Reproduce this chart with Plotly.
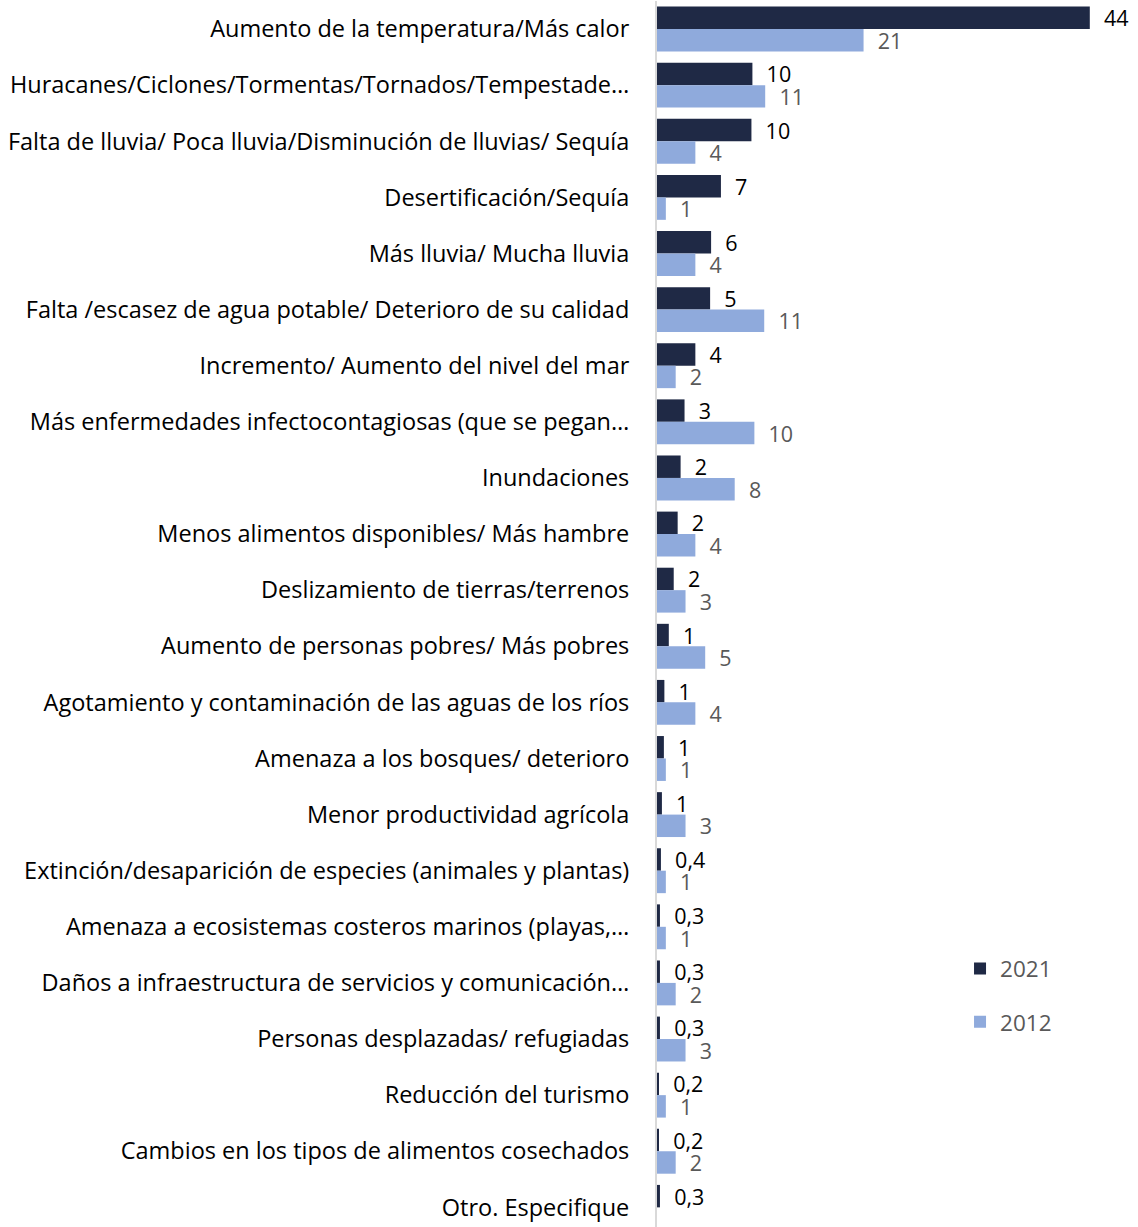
import plotly.graph_objects as go

categories = [
    "Aumento de la temperatura/Más calor",
    "Huracanes/Ciclones/Tormentas/Tornados/Tempestade…",
    "Falta de lluvia/ Poca lluvia/Disminución de lluvias/ Sequía",
    "Desertificación/Sequía",
    "Más lluvia/ Mucha lluvia",
    "Falta /escasez de agua potable/ Deterioro de su calidad",
    "Incremento/ Aumento del nivel del mar",
    "Más enfermedades infectocontagiosas (que se pegan…",
    "Inundaciones",
    "Menos alimentos disponibles/ Más hambre",
    "Deslizamiento de tierras/terrenos",
    "Aumento de personas pobres/ Más pobres",
    "Agotamiento y contaminación de las aguas de los ríos",
    "Amenaza a los bosques/ deterioro",
    "Menor productividad agrícola",
    "Extinción/desaparición de especies (animales y plantas)",
    "Amenaza a ecosistemas costeros marinos (playas,…",
    "Daños a infraestructura de servicios y comunicación…",
    "Personas desplazadas/ refugiadas",
    "Reducción del turismo",
    "Cambios en los tipos de alimentos cosechados",
    "Otro. Especifique",
]

values_2021 = [44.0, 9.7, 9.6, 6.5, 5.5, 5.4, 3.9, 2.8, 2.4, 2.1, 1.7, 1.2,
               0.75, 0.7, 0.5, 0.4, 0.3, 0.3, 0.3, 0.2, 0.2, 0.3]
values_2012 = [21.0, 11.0, 3.9, 0.9, 3.9, 10.9, 1.9, 9.9, 7.9, 3.9, 2.9, 4.9,
               3.9, 0.9, 2.9, 0.9, 0.9, 1.9, 2.9, 0.9, 1.9, None]

labels_2021 = ["44", "10", "10", "7", "6", "5", "4", "3", "2", "2", "2", "1",
               "1", "1", "1", "0,4", "0,3", "0,3", "0,3", "0,2", "0,2", "0,3"]
labels_2012 = ["21", "11", "4", "1", "4", "11", "2", "10", "8", "4", "3", "5",
               "4", "1", "3", "1", "1", "2", "3", "1", "2", ""]

FONT = "Open Sans"
FS = 23.5
FS_LBL = 21.5
PAD = "\u00a0\u00a0"

fig = go.Figure()
fig.add_trace(go.Bar(
    y=categories, x=values_2021, orientation="h", name="2021",
    marker=dict(color="#1F2945", line=dict(width=0)),
    text=[PAD + t for t in labels_2021], textposition="outside",
    constraintext="none",
    textfont=dict(color="#000000", size=FS_LBL, family=FONT),
    cliponaxis=False, legendgroup="a",
))
fig.add_trace(go.Bar(
    y=categories, x=values_2012, orientation="h", name="2012",
    marker=dict(color="#8FAADC", line=dict(width=0)),
    text=[PAD + t for t in labels_2012], textposition="outside",
    constraintext="none",
    textfont=dict(color="#595959", size=FS_LBL, family=FONT),
    cliponaxis=False, legendgroup="b",
))

fig.update_layout(
    width=1138, height=1227,
    margin=dict(l=657, r=0, t=1, b=0),
    paper_bgcolor="white", plot_bgcolor="white",
    barmode="group", bargap=0.2, bargroupgap=0,
    font=dict(family=FONT, size=FS, color="#000000"),
    showlegend=True,
    legend=dict(
        x=0.63, y=0.228, xanchor="left", yanchor="top",
        font=dict(size=22.5, color="#595959", family=FONT),
        traceorder="grouped", tracegroupgap=21,
        bgcolor="rgba(0,0,0,0)",
    ),
)
fig.update_xaxes(range=[0, 48.9], visible=False, showgrid=False, zeroline=False)
fig.update_yaxes(
    range=[21.35, -0.5], showline=True, linecolor="#D9D9D9", linewidth=2,
    ticks="", ticklabelstandoff=21, showgrid=False,
    tickfont=dict(size=FS, color="#000000", family=FONT),
)

fig.write_html("out.html", config={"displayModeBar": False},
               post_script="document.body.style.margin='0';")
